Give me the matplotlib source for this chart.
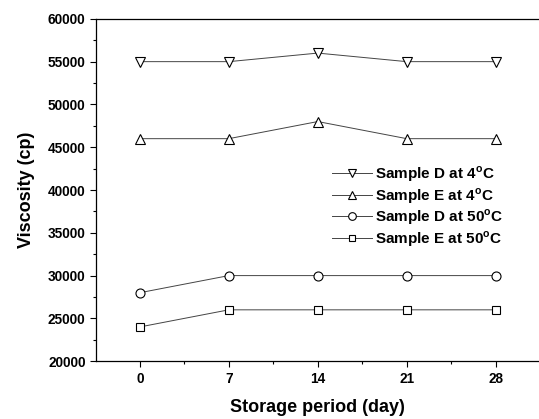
import matplotlib
matplotlib.use('Agg')
import matplotlib.pyplot as plt
from matplotlib.ticker import MultipleLocator

plt.rcParams['font.family'] = ['Liberation Sans', 'DejaVu Sans']
plt.rcParams['font.weight'] = 'bold'

days = [0, 7, 14, 21, 28]
d_4c = [55000, 55000, 56000, 55000, 55000]
e_4c = [46000, 46000, 48000, 46000, 46000]
d_50c = [28000, 30000, 30000, 30000, 30000]
e_50c = [24000, 26000, 26000, 26000, 26000]
labels = ['Sample D at 4$^{\\mathregular{o}}$C', 'Sample E at 4$^{\\mathregular{o}}$C',
          'Sample D at 50$^{\\mathregular{o}}$C', 'Sample E at 50$^{\\mathregular{o}}$C']

fig = plt.figure(figsize=(5.39, 4.19), dpi=100)
ax = fig.add_axes([0.178, 0.138, 0.822, 0.817])

series = [(d_4c, 'v', 7), (e_4c, '^', 7), (d_50c, 'o', 6.5), (e_50c, 's', 5.5)]
for (vals, m, ms), lab in zip(series, labels):
    ax.plot(days, vals, color='#444444', lw=0.7, marker=m, ms=ms,
            mfc='white', mec='black', mew=0.8, label=lab)

ax.set_xlim(-3.45, 31.4)
ax.set_ylim(20000, 60000)
ax.xaxis.set_major_locator(MultipleLocator(7))
ax.xaxis.set_minor_locator(MultipleLocator(3.5))
ax.yaxis.set_major_locator(MultipleLocator(5000))
ax.yaxis.set_minor_locator(MultipleLocator(2500))
ax.tick_params(which='major', length=4, width=0.8, labelsize=9.8)
ax.tick_params(which='minor', length=2, width=0.8)
ax.spines['right'].set_visible(False)
for s in ['left', 'bottom', 'top']:
    ax.spines[s].set_linewidth(0.9)

ax.set_xlabel('Storage period (day)', fontsize=13, fontweight='bold', labelpad=10)
ax.set_ylabel('Viscosity (cp)', fontsize=13, fontweight='bold', labelpad=9)

leg = ax.legend(loc='upper left', bbox_to_anchor=(0.533, 0.575), frameon=False,
                borderpad=0, borderaxespad=0, handlelength=2.6, handletextpad=0.2,
                labelspacing=0.12, markerscale=0.85,
                prop={'weight': 'bold', 'size': 11})

fig.savefig('out.png', dpi=100)
